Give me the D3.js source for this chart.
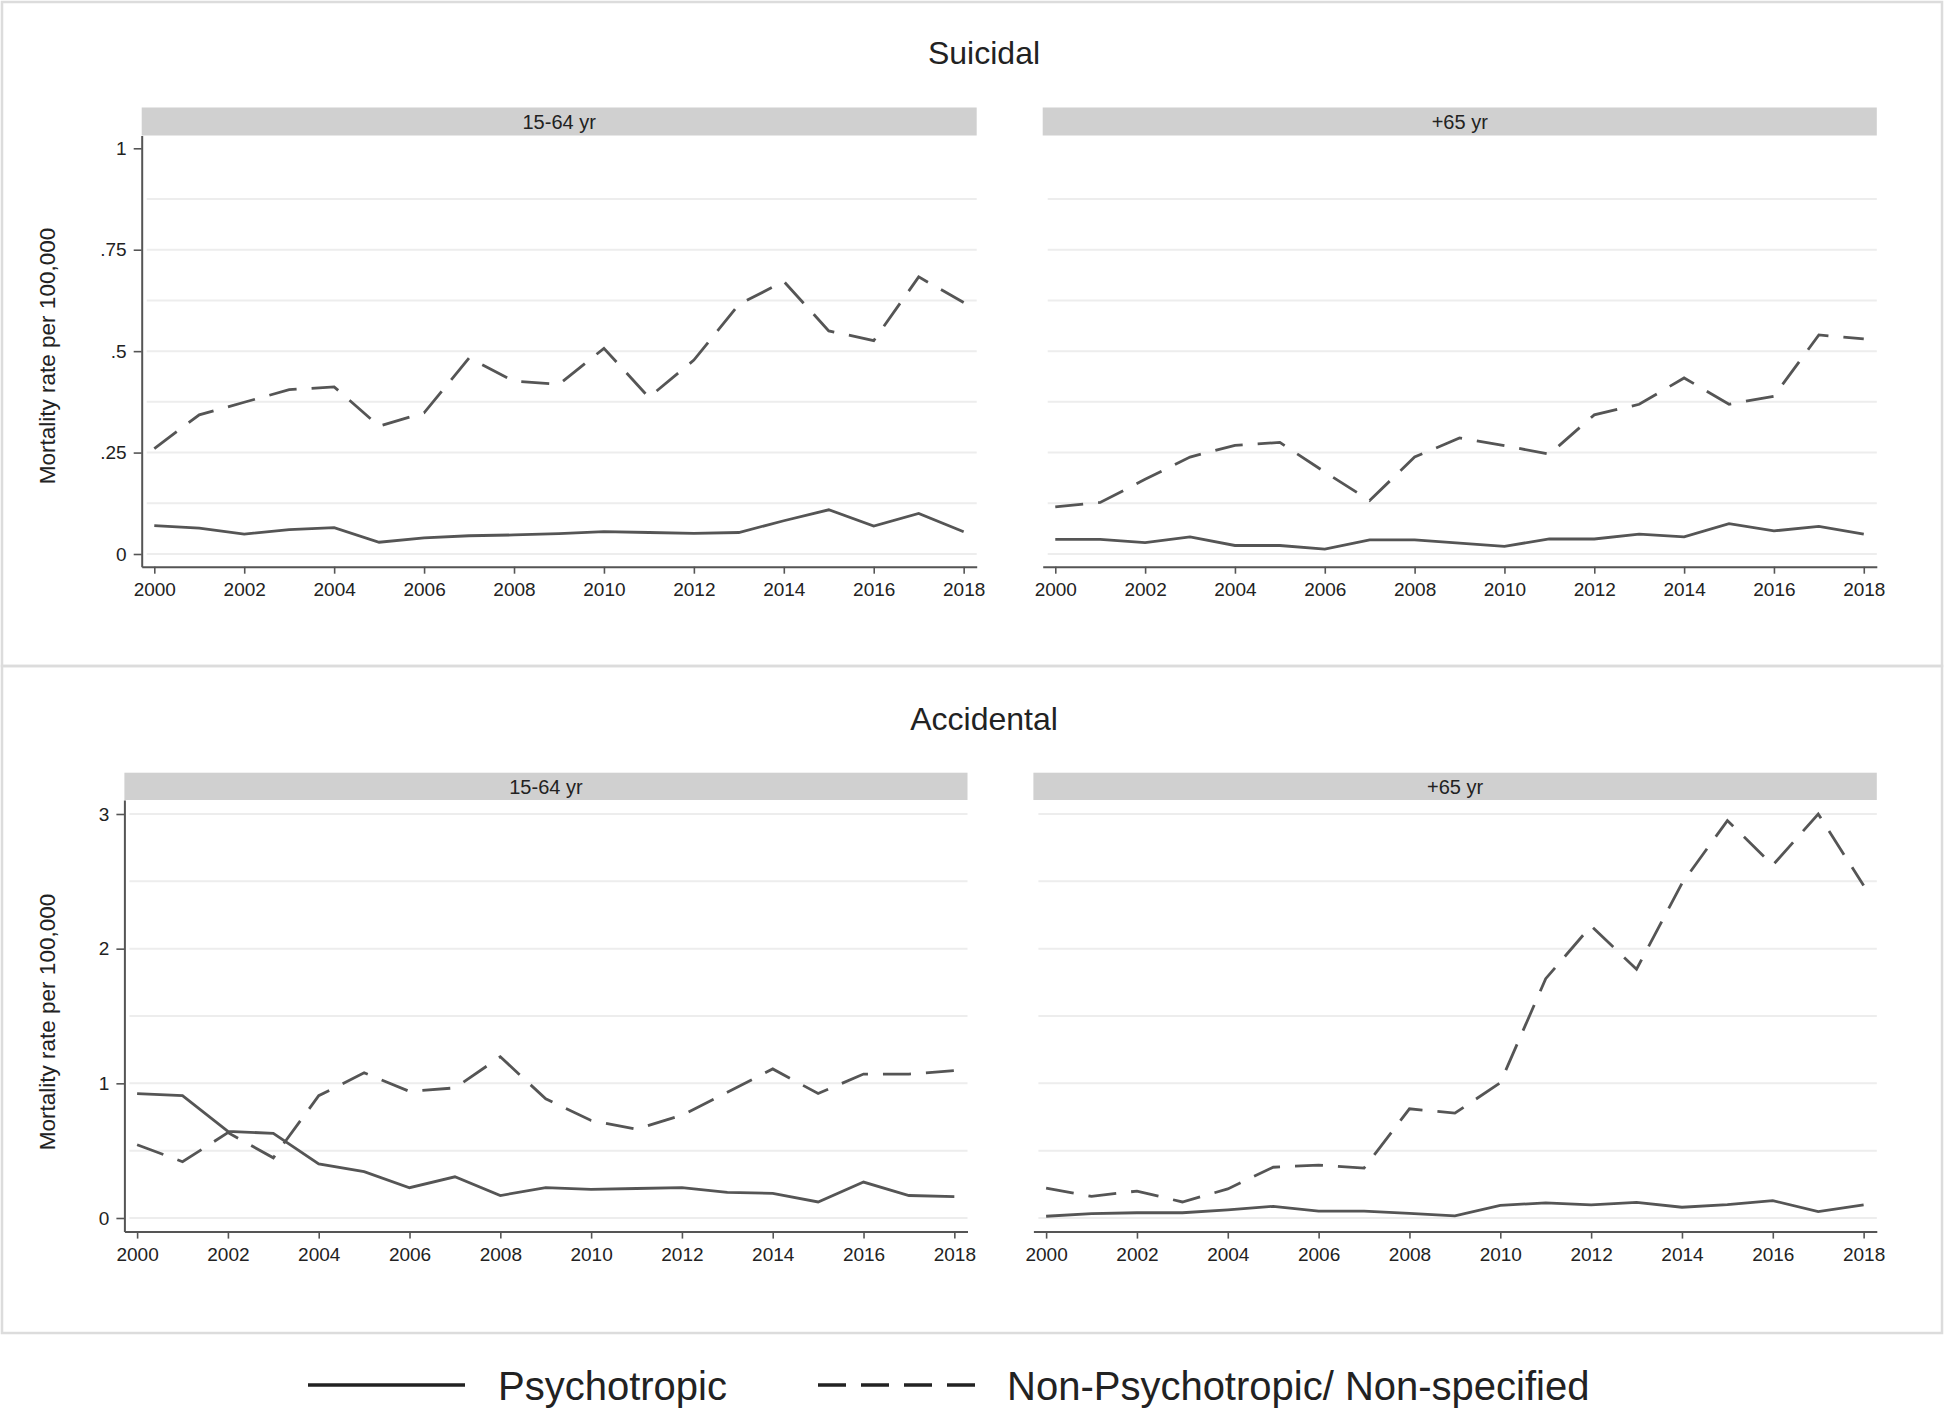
<!DOCTYPE html>
<html>
<head>
<meta charset="utf-8">
<script src="https://cdn.jsdelivr.net/npm/d3@7.9.0/dist/d3.min.js"></script>
<style>
  body { margin: 0; background: #fff; }
  text { font-family: "Liberation Sans", Arial, sans-serif; fill: #222; }
</style>
</head>
<body>
<svg id="chart"></svg>
<script>
// --- data (mortality rate per 100,000) ---
const years = [2000, 2001, 2002, 2003, 2004, 2005, 2006, 2007, 2008, 2009,
  2010, 2011, 2012, 2013, 2014, 2015, 2016, 2017, 2018];

const suicidalYoungPsy = [0.070, 0.064, 0.049, 0.060, 0.065, 0.029, 0.040, 0.045, 0.047, 0.050,
  0.055, 0.053, 0.051, 0.053, 0.082, 0.109, 0.069, 0.100, 0.055];
const suicidalYoungNon = [0.260, 0.343, 0.374, 0.405, 0.412, 0.315, 0.348, 0.483, 0.426, 0.418,
  0.507, 0.386, 0.478, 0.615, 0.672, 0.550, 0.526, 0.683, 0.620];
const suicidalOldPsy = [0.036, 0.036, 0.028, 0.042, 0.021, 0.021, 0.012, 0.035, 0.035, 0.027,
  0.019, 0.037, 0.037, 0.049, 0.042, 0.075, 0.057, 0.068, 0.049];
const suicidalOldNon = [0.116, 0.127, 0.184, 0.239, 0.268, 0.275, 0.202, 0.132, 0.239, 0.286,
  0.267, 0.246, 0.343, 0.369, 0.434, 0.369, 0.389, 0.540, 0.530];

const accidentalYoungPsy = [0.924, 0.908, 0.644, 0.628, 0.402, 0.344, 0.225, 0.306, 0.167, 0.225,
  0.212, 0.219, 0.225, 0.190, 0.183, 0.119, 0.267, 0.167, 0.158];
const accidentalYoungNon = [0.544, 0.418, 0.634, 0.447, 0.908, 1.078, 0.940, 0.966, 1.197, 0.885,
  0.724, 0.660, 0.763, 0.933, 1.107, 0.924, 1.069, 1.069, 1.094];
const accidentalOldPsy = [0.013, 0.032, 0.039, 0.039, 0.061, 0.087, 0.051, 0.051, 0.035, 0.016,
  0.093, 0.113, 0.097, 0.116, 0.080, 0.100, 0.129, 0.048, 0.097];
const accidentalOldNon = [0.222, 0.161, 0.200, 0.119, 0.216, 0.377, 0.393, 0.370, 0.811, 0.779,
  1.004, 1.777, 2.169, 1.847, 2.485, 2.951, 2.620, 3.000, 2.469];

const yearTicks = [2000, 2002, 2004, 2006, 2008, 2010, 2012, 2014, 2016, 2018];
const suicidalTicks = [0, 0.25, 0.5, 0.75, 1];
const suicidalTickLabels = ['0', '.25', '.5', '.75', '1'];
const suicidalGrid = [0, 0.125, 0.25, 0.375, 0.5, 0.625, 0.75, 0.875];
const accidentalTicks = [0, 1, 2, 3];
const accidentalTickLabels = ['0', '1', '2', '3'];
const accidentalGrid = [0, 0.5, 1, 1.5, 2, 2.5, 3];

const rowTitles = ['Suicidal', 'Accidental'];
const ageGroups = ['15-64 yr', '+65 yr'];
const seriesNames = ['Psychotropic', 'Non-Psychotropic/ Non-specified'];

// --- layout ---
const width = 1944;
const height = 1409;

const rows = [
  {
    title: rowTitles[0], boxTop: 2, boxBottom: 666, titleY: 52,
    stripTop: 107.5, plotTop: 135.5, plotBottom: 566.7,
    zeroY: 554, topVal: 1, topY: 148.3, axisTitleY: 356,
    ticks: suicidalTicks, tickLabels: suicidalTickLabels, grid: suicidalGrid,
    panels: [
      { label: ageGroups[0], left: 141.7, right: 976.7, psy: suicidalYoungPsy, non: suicidalYoungNon, yAxis: true },
      { label: ageGroups[1], left: 1042.7, right: 1876.8, psy: suicidalOldPsy, non: suicidalOldNon, yAxis: false },
    ],
  },
  {
    title: rowTitles[1], boxTop: 666, boxBottom: 1333, titleY: 718.5,
    stripTop: 772.7, plotTop: 800, plotBottom: 1231.6,
    zeroY: 1218, topVal: 3, topY: 814, axisTitleY: 1022,
    ticks: accidentalTicks, tickLabels: accidentalTickLabels, grid: accidentalGrid,
    panels: [
      { label: ageGroups[0], left: 124.4, right: 967.5, psy: accidentalYoungPsy, non: accidentalYoungNon, yAxis: true },
      { label: ageGroups[1], left: 1033.4, right: 1876.8, psy: accidentalOldPsy, non: accidentalOldNon, yAxis: false },
    ],
  },
];

const lineColor = '#555';
const dash = '28,15';

const svg = d3.select('#chart')
  .attr('width', width)
  .attr('height', height)
  .attr('viewBox', `0 0 ${width} ${height}`);

svg.append('rect').attr('width', width).attr('height', height).attr('fill', '#fff');

function drawPanel(g, row, p) {
  // x: pad the year domain a little like Stata does
  const x = d3.scaleLinear().domain([1999.72, 2018.29]).range([p.left, p.right]);
  const y0 = d3.scaleLinear().domain([0, row.topVal]).range([row.zeroY, row.topY]);
  const y = d3.scaleLinear()
    .domain([y0.invert(row.plotBottom), y0.invert(row.plotTop)])
    .range([row.plotBottom, row.plotTop]);

  // strip
  g.append('rect')
    .attr('x', p.left).attr('y', row.stripTop)
    .attr('width', p.right - p.left).attr('height', row.plotTop - row.stripTop)
    .attr('fill', '#d0d0d0');
  g.append('text')
    .attr('x', (p.left + p.right) / 2)
    .attr('y', (row.stripTop + row.plotTop) / 2)
    .attr('dy', '0.36em')
    .attr('text-anchor', 'middle')
    .style('font-size', '20px')
    .text(p.label);

  // gridlines
  g.append('g')
    .selectAll('line')
    .data(row.grid)
    .join('line')
    .attr('x1', p.left + 5).attr('x2', p.right)
    .attr('y1', d => y(d)).attr('y2', d => y(d))
    .attr('stroke', '#ededed')
    .attr('stroke-width', 2);

  const line = d3.line()
    .x((d, i) => x(years[i]))
    .y(d => y(d));

  g.append('path')
    .datum(p.non)
    .attr('d', line)
    .attr('fill', 'none')
    .attr('stroke', lineColor)
    .attr('stroke-width', 2.8)
    .attr('stroke-dasharray', dash);

  g.append('path')
    .datum(p.psy)
    .attr('d', line)
    .attr('fill', 'none')
    .attr('stroke', lineColor)
    .attr('stroke-width', 2.8);

  // x axis
  const xAxis = d3.axisBottom(x)
    .tickValues(yearTicks)
    .tickFormat(d3.format('d'))
    .tickSize(7)
    .tickSizeOuter(0)
    .tickPadding(9);
  const gx = g.append('g')
    .attr('transform', `translate(0, ${row.plotBottom})`)
    .call(xAxis);
  styleAxis(gx);

  if (p.yAxis) {
    const yAxis = d3.axisLeft(y)
      .tickValues(row.ticks)
      .tickFormat((d, i) => row.tickLabels[i])
      .tickSize(8)
      .tickSizeOuter(0)
      .tickPadding(7);
    const gy = g.append('g')
      .attr('transform', `translate(${p.left}, 0)`)
      .call(yAxis);
    styleAxis(gy);

    g.append('text')
      .attr('transform', `translate(47, ${row.axisTitleY}) rotate(-90)`)
      .attr('text-anchor', 'middle')
      .attr('dy', '0.36em')
      .style('font-size', '22.5px')
      .text('Mortality rate per 100,000');
  }
}

function styleAxis(sel) {
  sel.select('.domain').attr('stroke', '#555').attr('stroke-width', 2);
  sel.selectAll('.tick line').attr('stroke', '#555').attr('stroke-width', 1.6);
  sel.selectAll('.tick text')
    .style('font-size', '19px')
    .style('font-family', '"Liberation Sans", Arial, sans-serif')
    .attr('fill', '#333');
}

rows.forEach(row => {
  const g = svg.append('g');
  g.append('rect')
    .attr('x', 2).attr('y', row.boxTop)
    .attr('width', width - 4).attr('height', row.boxBottom - row.boxTop)
    .attr('fill', 'none')
    .attr('stroke', '#dcdcdc')
    .attr('stroke-width', 2.5);

  g.append('text')
    .attr('x', 984)
    .attr('y', row.titleY)
    .attr('dy', '0.36em')
    .attr('text-anchor', 'middle')
    .style('font-size', '32px')
    .attr('fill', '#111')
    .text(row.title);

  row.panels.forEach(p => drawPanel(g, row, p));
});

// legend
const legend = svg.append('g').attr('class', 'legend');
const legendItems = [
  { name: seriesNames[0], x1: 308, x2: 465, tx: 498, dash: null },
  { name: seriesNames[1], x1: 818, x2: 975, tx: 1007, dash: dash },
];
legendItems.forEach(d => {
  legend.append('line')
    .attr('x1', d.x1).attr('x2', d.x2)
    .attr('y1', 1385).attr('y2', 1385)
    .attr('stroke', '#222')
    .attr('stroke-width', 3.5)
    .attr('stroke-dasharray', d.dash);
  legend.append('text')
    .attr('x', d.tx)
    .attr('y', 1400)
    .style('font-size', '40px')
    .attr('fill', '#111')
    .text(d.name);
});
</script>
</body>
</html>
